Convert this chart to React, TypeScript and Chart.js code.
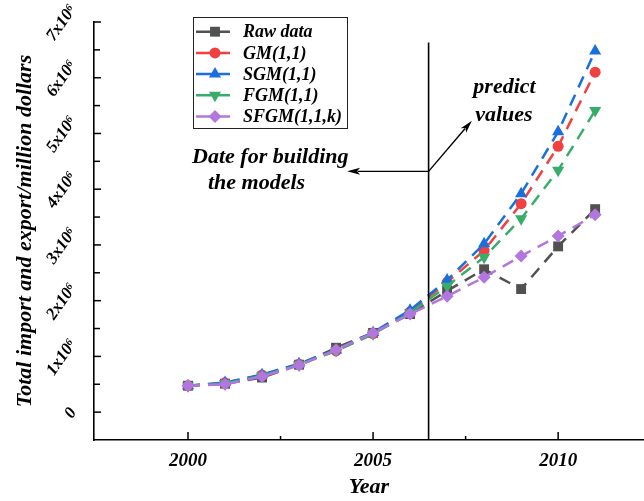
import React, { useEffect, useRef } from 'react';
import { Chart, registerables } from 'chart.js';

Chart.register(...registerables);

// ---- data (values in units of 10^6 million dollars) ----
const years = [2000, 2001, 2002, 2003, 2004, 2005, 2006, 2007, 2008, 2009, 2010, 2011];
const rawData = [0.474, 0.510, 0.621, 0.851, 1.155, 1.422, 1.760, 2.177, 2.563, 2.208, 2.974, 3.642];
const gmData = [0.474, 0.525, 0.665, 0.860, 1.100, 1.410, 1.800, 2.330, 2.900, 3.740, 4.770, 6.100];
const sgmData = [0.474, 0.530, 0.672, 0.870, 1.115, 1.430, 1.830, 2.370, 3.020, 3.920, 5.030, 6.480];
const fgmData = [0.474, 0.512, 0.650, 0.850, 1.100, 1.400, 1.780, 2.260, 2.780, 3.470, 4.340, 5.410];
const sfgmData = [0.474, 0.500, 0.640, 0.840, 1.120, 1.420, 1.760, 2.080, 2.420, 2.800, 3.160, 3.540];
const seriesNames = ['Raw data', 'GM(1,1)', 'SGM(1,1)', 'FGM(1,1)', 'SFGM(1,1,k)'];

const xMajorTicks = [2000, 2005, 2010];
const xMinorTicks = [2002.5, 2007.5, 2012.5];
const xTickLabels = ['2000', '2005', '2010'];
const yMajorTicks = [0, 1, 2, 3, 4, 5, 6, 7];
const yMinorTicks = [-0.5, 0.5, 1.5, 2.5, 3.5, 4.5, 5.5, 6.5];
const yTickLabels = ['0', '1x10\u2076', '2x10\u2076', '3x10\u2076', '4x10\u2076', '5x10\u2076', '6x10\u2076', '7x10\u2076'];

const splitYear = 2006.5;

// ---- styles ----
const FONT = '"Liberation Serif", "Times New Roman", Times, serif';
const colors = ['#515151', '#F14040', '#1A6FDF', '#37AD6B', '#B177DE'];
const pointStyles = ['rect', 'circle', 'triangle', 'triangle', 'rectRot'];
const pointRotations = [0, 0, 0, 180, 0];
const pointRadii = [7, 5.5, 7, 7, 6.5];
const drawOrder = [5, 4, 3, 2, 1];

function drawMarker(ctx: CanvasRenderingContext2D, style: string, x: number, y: number, r: number, rotDeg: number) {
  ctx.beginPath();
  if (style === 'rect') {
    const s = Math.SQRT1_2 * r;
    ctx.rect(x - s, y - s, 2 * s, 2 * s);
  } else if (style === 'circle') {
    ctx.arc(x, y, r, 0, Math.PI * 2);
  } else if (style === 'triangle') {
    let rad = (rotDeg * Math.PI) / 180;
    ctx.moveTo(x + Math.sin(rad) * r, y - Math.cos(rad) * r);
    rad += (2 * Math.PI) / 3;
    ctx.lineTo(x + Math.sin(rad) * r, y - Math.cos(rad) * r);
    rad += (2 * Math.PI) / 3;
    ctx.lineTo(x + Math.sin(rad) * r, y - Math.cos(rad) * r);
    ctx.closePath();
  } else if (style === 'rectRot') {
    ctx.moveTo(x - r, y);
    ctx.lineTo(x, y - r);
    ctx.lineTo(x + r, y);
    ctx.lineTo(x, y + r);
    ctx.closePath();
  }
  ctx.fill();
}

function arrow(ctx: CanvasRenderingContext2D, x1: number, y1: number, x2: number, y2: number) {
  const ang = Math.atan2(y2 - y1, x2 - x1);
  const hl = 13;
  const hw = 3.5;
  ctx.beginPath();
  ctx.moveTo(x1, y1);
  ctx.lineTo(x2 - Math.cos(ang) * hl * 0.8, y2 - Math.sin(ang) * hl * 0.8);
  ctx.stroke();
  ctx.beginPath();
  ctx.moveTo(x2, y2);
  ctx.lineTo(x2 - Math.cos(ang) * hl - Math.sin(ang) * hw, y2 - Math.sin(ang) * hl + Math.cos(ang) * hw);
  ctx.lineTo(x2 - Math.cos(ang) * hl * 0.75, y2 - Math.sin(ang) * hl * 0.75);
  ctx.lineTo(x2 - Math.cos(ang) * hl + Math.sin(ang) * hw, y2 - Math.sin(ang) * hl - Math.cos(ang) * hw);
  ctx.closePath();
  ctx.fill();
}

const decorPlugin = {
  id: 'decor',
  afterDraw(chart: any) {
    const ctx: CanvasRenderingContext2D = chart.ctx;
    const xs = chart.scales.x;
    const ys = chart.scales.y;
    const { left, right, bottom } = chart.chartArea;
    ctx.save();
    ctx.strokeStyle = '#000';
    ctx.fillStyle = '#000';
    ctx.lineWidth = 1.5;
    ctx.setLineDash([]);

    // inward tick marks
    const tick = (x1: number, y1: number, x2: number, y2: number) => {
      ctx.beginPath();
      ctx.moveTo(x1, y1);
      ctx.lineTo(x2, y2);
      ctx.stroke();
    };
    xMajorTicks.forEach((v) => {
      const px = xs.getPixelForValue(v);
      if (px >= left && px <= right) tick(px, bottom, px, bottom - 8);
    });
    xMinorTicks.forEach((v) => {
      const px = xs.getPixelForValue(v);
      if (px >= left && px <= right) tick(px, bottom, px, bottom - 4);
    });
    yMajorTicks.forEach((v) => {
      const py = ys.getPixelForValue(v);
      tick(left, py, left + 7, py);
    });
    yMinorTicks.forEach((v) => {
      const py = ys.getPixelForValue(v);
      if (py < bottom - 1) tick(left, py, left + 6, py);
    });

    // rotated y tick labels (each rotated about its centre, right edge aligned)
    const fs = 17;
    const theta = (55 * Math.PI) / 180;
    ctx.font = `italic bold ${fs}px ${FONT}`;
    ctx.textAlign = 'center';
    ctx.textBaseline = 'middle';
    yMajorTicks.forEach((v, i) => {
      const py = ys.getPixelForValue(v);
      const L = ctx.measureText(yTickLabels[i]).width;
      const h = fs * 0.68;
      const w = L * Math.cos(theta) + h * Math.sin(theta);
      const cx = left - 16 - w / 2;
      ctx.save();
      ctx.translate(cx, py + 1);
      ctx.rotate(-theta);
      ctx.fillText(yTickLabels[i], 0, 0);
      ctx.restore();
    });

    // split line
    const sx = xs.getPixelForValue(splitYear);
    ctx.lineWidth = 1.6;
    tick(sx, ys.getPixelForValue(6.63), sx, bottom);

    // arrows
    ctx.lineWidth = 1.4;
    const ay = ys.getPixelForValue(4.32);
    arrow(ctx, sx, ay, xs.getPixelForValue(2004.3), ay);
    arrow(ctx, sx, ay, xs.getPixelForValue(2007.67), ys.getPixelForValue(5.23));

    // annotation texts
    ctx.font = `italic bold 22px ${FONT}`;
    ctx.textAlign = 'left';
    ctx.textBaseline = 'alphabetic';
    ctx.fillText('Date for building', xs.getPixelForValue(2000.11), ys.getPixelForValue(4.47));
    ctx.fillText('the models', xs.getPixelForValue(2000.54), ys.getPixelForValue(4.01));
    ctx.fillText('predict', xs.getPixelForValue(2007.71), ys.getPixelForValue(5.72));
    ctx.fillText('values', xs.getPixelForValue(2007.76), ys.getPixelForValue(5.23));

    // legend
    const lx = 193, ly = 17, lw = 154, lh = 111;
    ctx.fillStyle = '#fff';
    ctx.fillRect(lx, ly, lw, lh);
    ctx.strokeStyle = '#222';
    ctx.lineWidth = 1;
    ctx.strokeRect(lx + 0.5, ly + 0.5, lw, lh);
    ctx.font = `italic bold 18px ${FONT}`;
    ctx.textBaseline = 'middle';
    seriesNames.forEach((name, i) => {
      const y = 31.7 + i * 21.2;
      ctx.strokeStyle = colors[i];
      ctx.lineWidth = 2.5;
      ctx.beginPath();
      ctx.moveTo(196, y);
      ctx.lineTo(230, y);
      ctx.stroke();
      ctx.fillStyle = colors[i];
      drawMarker(ctx, pointStyles[i], 215, y, pointRadii[i], pointRotations[i]);
      ctx.fillStyle = '#000';
      ctx.fillText(name, 243, y + 1);
    });
    ctx.restore();
  },
};

export default function App() {
  const canvasRef = useRef<HTMLCanvasElement | null>(null);

  useEffect(() => {
    const canvas = canvasRef.current;
    if (!canvas) return;
    const series = [rawData, gmData, sgmData, fgmData, sfgmData];
    const chart = new Chart(canvas, {
      type: 'line',
      data: {
        datasets: series.map((d, i) => ({
          label: seriesNames[i],
          data: years.map((yr, j) => ({ x: yr, y: d[j] })),
          borderColor: colors[i],
          backgroundColor: colors[i],
          borderWidth: 2.5,
          borderDash: [12, 8],
          tension: 0,
          pointStyle: pointStyles[i] as any,
          pointRotation: pointRotations[i],
          pointRadius: pointRadii[i],
          pointBorderWidth: 0,
          pointBackgroundColor: colors[i],
          order: drawOrder[i],
        })),
      },
      options: {
        animation: false,
        responsive: false,
        devicePixelRatio: 1,
        layout: { autoPadding: false, padding: { top: 22, right: 0, bottom: 0, left: 0 } },
        plugins: {
          legend: { display: false },
          tooltip: { enabled: false },
        },
        scales: {
          x: {
            type: 'linear',
            min: 1997.46,
            max: 2012.32,
            grid: { display: false, drawTicks: false },
            border: { display: true, color: '#000', width: 1.6 },
            afterBuildTicks: (scale: any) => {
              scale.ticks = xMajorTicks.map((v) => ({ value: v }));
            },
            afterFit: (scale: any) => {
              scale.height = 61;
              scale.paddingLeft = 0;
              scale.paddingRight = 0;
            },
            ticks: {
              padding: 10,
              color: '#000',
              font: { family: FONT, size: 19, style: 'italic', weight: 'bold' },
              callback: (v: any) => {
                const i = xMajorTicks.indexOf(Number(v));
                return i >= 0 ? xTickLabels[i] : '';
              },
            },
            title: {
              display: true,
              text: 'Year',
              color: '#000',
              padding: { top: 0, bottom: 0 },
              font: { family: FONT, size: 22, style: 'italic', weight: 'bold' },
            },
          },
          y: {
            type: 'linear',
            min: -0.5,
            max: 7,
            grid: { display: false, drawTicks: false },
            border: { display: true, color: '#000', width: 1.6 },
            afterBuildTicks: (scale: any) => {
              scale.ticks = yMajorTicks.map((v) => ({ value: v }));
            },
            afterFit: (scale: any) => {
              scale.width = 94;
              scale.paddingTop = 0;
              scale.paddingBottom = 0;
            },
            ticks: { display: false },
            title: {
              display: true,
              text: 'Total import and export/million dollars',
              color: '#000',
              padding: { top: 12, bottom: 0 },
              font: { family: FONT, size: 22, style: 'italic', weight: 'bold' },
            },
          },
        },
      },
      plugins: [decorPlugin],
    });
    return () => chart.destroy();
  }, []);

  return (
    <div style={{ position: 'fixed', left: 0, top: 0, width: 644, height: 501, background: '#fff' }}>
      <canvas ref={canvasRef} width={644} height={501} style={{ display: 'block' }} />
    </div>
  );
}
